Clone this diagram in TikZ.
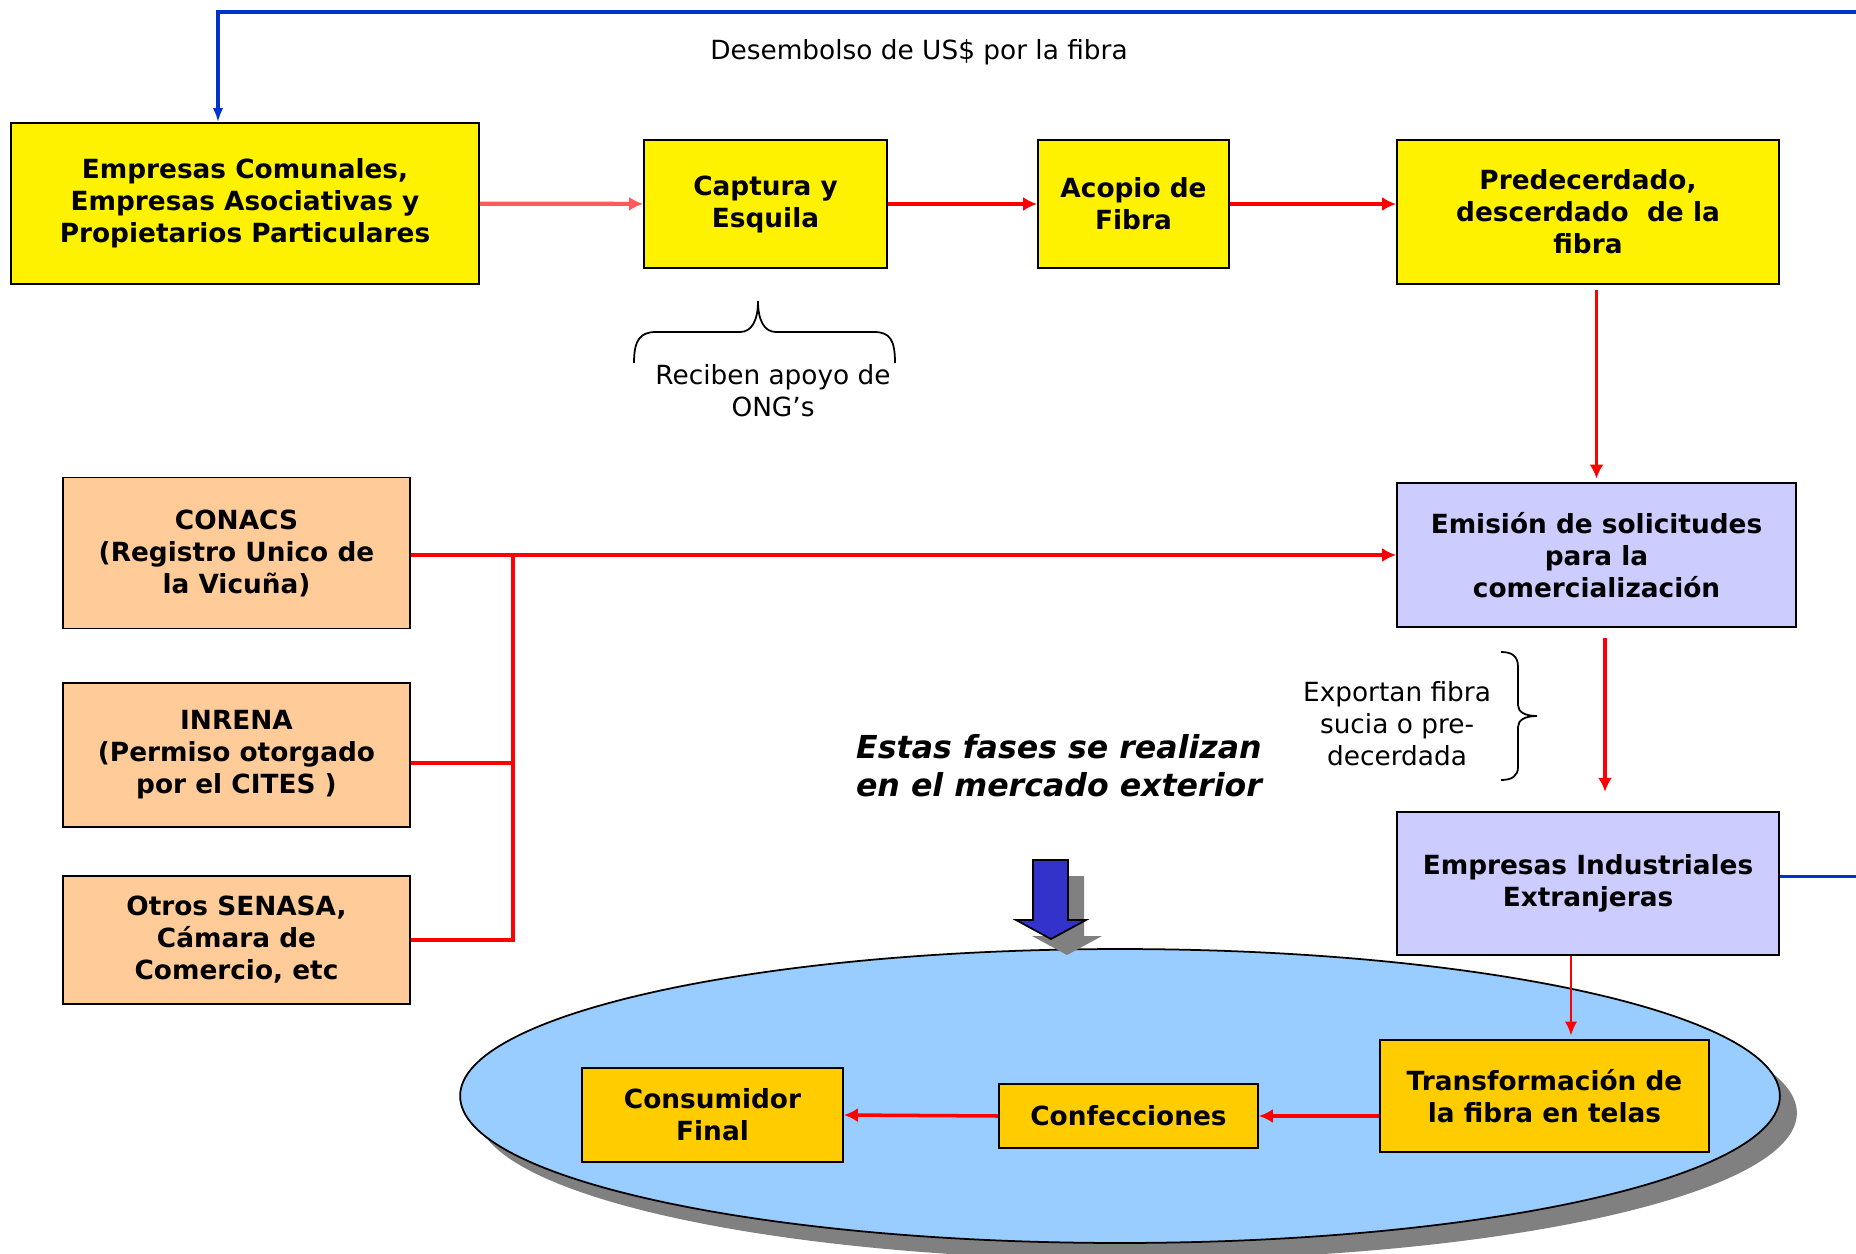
\documentclass[tikz,border=0pt]{standalone}
\usepackage{fontspec}
\setmainfont{DejaVu Sans}
\usetikzlibrary{arrows.meta, shapes.geometric, shadows, calc}
\definecolor{peach}{HTML}{FFCC99}
\definecolor{lila}{HTML}{CCCCFF}
\definecolor{gold}{HTML}{FFCC00}
\definecolor{sky}{HTML}{99CCFF}
\definecolor{paylink}{HTML}{0033CC}
\definecolor{downblue}{HTML}{3333CC}

\begin{document}
\begin{tikzpicture}[
    x=0.02cm, y=-0.02cm,
    box/.style = {
        rectangle, draw=black, fill=yellow,
        minimum height=2.56cm, align=center, line width=1pt, inner sep=2pt,
        font=\fontsize{15}{18.2}\selectfont\bfseries
    },
    orangebox/.style = {box, fill=peach},
    lilabox/.style = {box, fill=lila},
    goldbox/.style = {box, fill=gold},
    arr/.style = {-{Latex[length=8pt, width=8pt]}, line width=2pt, draw=red},
    thinarr/.style = {-{Latex[length=8pt, width=7pt]}, line width=1.3pt, draw=red},
    redline/.style = {line width=2pt, draw=red},
    payarr/.style = {-{Latex[length=8pt, width=6pt]}, line width=2pt, draw=paylink},
    note/.style = {align=center, font=\fontsize{15}{18.2}\selectfont},
    curly/.style = {line width=1pt}
]
\useasboundingbox (0,0) rectangle (1856,1254);

% ---- Mercado exterior ----
\node[ellipse, draw=black, line width=1pt, fill=sky, inner sep=0pt,
      minimum width=26.4cm, minimum height=5.88cm,
      drop shadow={shadow xshift=0.34cm, shadow yshift=-0.34cm, fill=black!50, opacity=1}]
    (mercado) at (1120,1096) {};

% ---- Top row ----
\node[box, minimum width=9.36cm, minimum height=3.22cm] (emp) at (245,203.5)
    {Empresas Comunales,\\Empresas Asociativas y\\Propietarios Particulares};
\node[box, minimum width=4.86cm] (captura) at (765.5,204) {Captura y\\Esquila};
\node[box, minimum width=3.82cm] (acopio) at (1133.5,204) {Acopio de\\Fibra};
\node[box, minimum width=7.64cm, minimum height=2.88cm] (pred) at (1588,212)
    {Predecerdado,\\descerdado\ \ de la\\fibra};

% ---- Instituciones ----
\node[orangebox, minimum width=6.94cm, minimum height=3.02cm] (conacs) at (236.5,553)
    {CONACS\\(Registro Unico de\\la Vicuña)};
\node[orangebox, minimum width=6.94cm, minimum height=2.88cm] (inrena) at (236.5,755)
    {INRENA\\(Permiso otorgado\\por el CITES )};
\node[orangebox, minimum width=6.94cm] (otros) at (236.5,940)
    {Otros SENASA,\\Cámara de\\Comercio, etc};

% ---- Comercializacion ----
\node[lilabox, minimum width=7.98cm, minimum height=2.88cm] (emision) at (1596.5,555)
    {Emisión de solicitudes\\para la\\comercialización};
\node[lilabox, minimum width=7.64cm, minimum height=2.86cm] (indus) at (1588,883.5)
    {Empresas Industriales\\Extranjeras};

% ---- Fases en el exterior ----
\node[goldbox, minimum width=6.58cm, minimum height=2.24cm] (transf) at (1544.5,1096)
    {Transformación de\\la fibra en telas};
\node[goldbox, minimum width=5.18cm, minimum height=1.28cm] (confec) at (1128.5,1116)
    {Confecciones};
\node[goldbox, minimum width=5.22cm, minimum height=1.88cm] (consum) at (712.5,1115)
    {Consumidor\\Final};

% ---- Labels ----
\node[note] (pago) at (919,52) {Desembolso de US\$ por la fibra};
\node[note] (ong) at (773,391) {Reciben apoyo de\\ONG’s};
\node[note] (exporta) at (1397,724) {Exportan fibra\\sucia o pre-\\decerdada};
\node[align=center, font=\fontsize{18}{21.8}\selectfont\bfseries\itshape] (fases)
    at (1059,766) {Estas fases se realizan\\en el mercado exterior};

% ---- Braces ----
\draw[curly] (634,363) .. controls (634,340) and (640,332) .. (656,332) -- (740,332)
    .. controls (752,332) and (758,320) .. (758,301)
    .. controls (758,320) and (764,332) .. (776,332) -- (874,332)
    .. controls (890,332) and (895,340) .. (895,363);
\draw[curly] (1501,652) .. controls (1512,652) and (1518,656) .. (1518,667) -- (1518,705)
    .. controls (1518,712) and (1525,716) .. (1537,716)
    .. controls (1525,716) and (1518,720) .. (1518,727) -- (1518,767)
    .. controls (1518,776) and (1512,780) .. (1501,780);

% ---- Down arrow into the market ----
\fill[black!50, shift={(16,16)}] (1033,860) -- (1068,860) -- (1068,920) -- (1086,920)
    -- (1051,939) -- (1016,920) -- (1033,920) -- cycle;
\draw[fill=downblue, line width=1pt] (1033,860) -- (1068,860) -- (1068,920) -- (1086,920)
    -- (1051,939) -- (1016,920) -- (1033,920) -- cycle;

% ---- Arrows ----
\draw[arr, draw=red!65, line width=2.4pt] (emp) -- (captura);
\draw[arr, line width=2.4pt] (captura) -- (acopio);
\draw[arr, line width=2.4pt] (acopio) -- (acopio -| pred.west);
\draw[arr, shorten <=3pt, shorten >=2pt] (pred.south -| emision.north) -- (emision.north);

% instituciones -> emision
\coordinate (bus) at (513,555);
\draw[arr] (conacs.east |- emision.west) -- (emision.west);
\draw[redline] ([yshift=-0.16cm]inrena.east) -- ([yshift=-0.16cm]inrena.east -| bus);
\draw[redline] (otros.east) -| (bus);

\draw[arr, shorten <=6pt, shorten >=11pt] ([xshift=0.17cm]emision.south)
    -- ([xshift=0.17cm]emision.south |- indus.north);
\draw[thinarr, shorten >=2pt] ([xshift=-0.34cm]indus.south)
    -- ([xshift=-0.34cm]indus.south |- transf.north);
\draw[arr] (transf.west |- confec.east) -- (confec.east);
\draw[arr] (confec.west) -- (consum.east);

% payment back to the producers
\coordinate (payR) at (1870,12);
\coordinate (payL) at (218,12);
\draw[payarr] ([yshift=0.14cm]indus.east) -| (payR) -- (payL) -- (payL |- emp.north);

\end{tikzpicture}
\end{document}
